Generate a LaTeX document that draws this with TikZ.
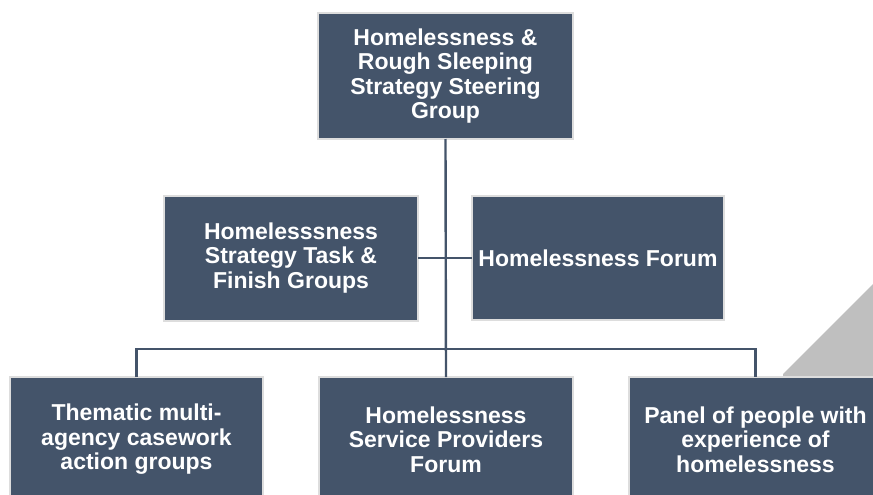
\documentclass[tikz,border=0pt]{standalone}
\usepackage{fontspec}
\setmainfont{Liberation Sans}
\usepackage{xcolor}
\usepackage{tikz}
\usetikzlibrary{positioning}

\definecolor{slate}{HTML}{44546A}
\definecolor{halo}{HTML}{DDDDDD}
\definecolor{wedge}{HTML}{BFBFBF}

\tikzset{
  unit/.style={rectangle, fill=slate, draw=halo, line width=2pt, text=white,
    font=\bfseries\fontsize{23}{24.5}\selectfont, align=center,
    inner sep=0pt, outer sep=0pt},
  link/.style={draw=slate, line width=2.4pt}
}

\begin{document}
\begin{tikzpicture}[x=1pt, y=-1pt]
\useasboundingbox (0,0) rectangle (873,495);
\clip (0,0) rectangle (873,495);

% grey wedge behind the right box
\fill[wedge] (783,374) -- (873,284) -- (873,420) -- (783,420) -- cycle;

% top node
\node[unit, minimum width=255pt, minimum height=126pt] (steer) at (445.5,76)
  {Homelessness \&\\Rough Sleeping\\Strategy Steering\\Group};

% middle nodes
\node[unit, minimum width=254pt, minimum height=125pt] (task) at (291,258)
  {Homelesssness\\Strategy Task \&\\Finish Groups};
\node[unit, minimum width=252pt, minimum height=124pt] (forum) at (598,258)
  {Homelessness Forum};

% bottom nodes
\node[unit, minimum width=253pt, minimum height=125pt] (actions) at (136.5,439.5)
  {Thematic multi-\\agency casework\\action groups};
\node[unit, minimum width=254pt, minimum height=125pt] (provider) at (446,439.5)
  {Homelessness\\Service Providers\\Forum};
\node[unit, minimum width=253pt, minimum height=125pt] (panel) at (755.5,439.5)
  {Panel of people with\\experience of\\homelessness};

% connectors
\coordinate (bus) at (446,349);
\draw[link] (steer.south) -- (provider.north);
\draw[link] (task.east) -- (forum.west);
\draw[link] (actions.north) |- (bus) -| (panel.north);
\end{tikzpicture}
\end{document}
